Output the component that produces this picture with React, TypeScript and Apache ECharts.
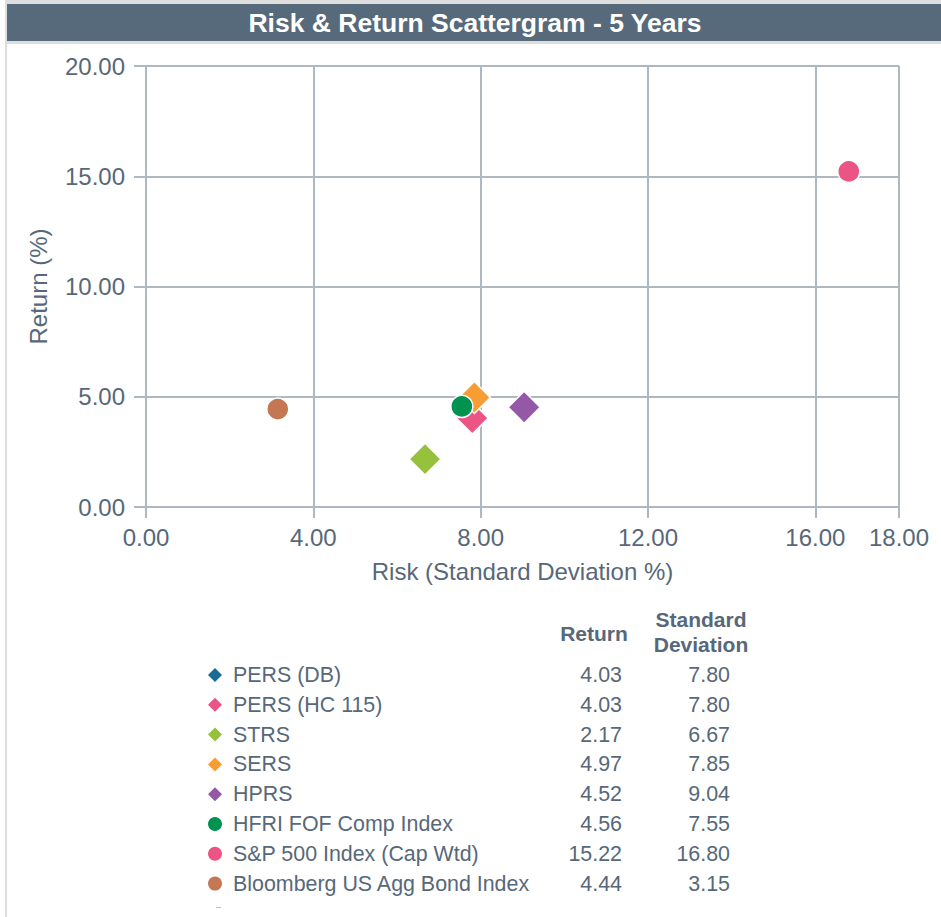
import React, { useEffect, useRef } from "react";
import * as echarts from "echarts";

const titleText = "Risk & Return Scattergram - 5 Years";
const names = [
  "PERS (DB)",
  "PERS (HC 115)",
  "STRS",
  "SERS",
  "HPRS",
  "HFRI FOF Comp Index",
  "S&P 500 Index (Cap Wtd)",
  "Bloomberg US Agg Bond Index",
];
const returns = [4.03, 4.03, 2.17, 4.97, 4.52, 4.56, 15.22, 4.44];
const stdDevs = [7.8, 7.8, 6.67, 7.85, 9.04, 7.55, 16.8, 3.15];
const colors = ["#176b95", "#ec5486", "#95c13d", "#f89c34", "#9558a6", "#00924f", "#ec5486", "#c57753"];
const shapes = ["diamond", "diamond", "diamond", "diamond", "diamond", "circle", "circle", "circle"];
const xAxisName = "Risk (Standard Deviation %)";
const yAxisName = "Return (%)";
const returnHeader = "Return";
const stdHeader = ["Standard", "Deviation"];

const FONT = "'Liberation Sans', Arial, sans-serif";
const TEXT = "#566879";
const GRID = "#aeb8c3";

export default function App() {
  const ref = useRef<HTMLDivElement>(null);
  useEffect(() => {
    document.body.style.margin = "0";
    const chart = echarts.init(ref.current!, null, { renderer: "svg" });

    const series = names.map((n, i) => ({
      name: n,
      type: "scatter",
      data: [[stdDevs[i], returns[i]]],
      symbol: shapes[i],
      symbolSize: shapes[i] === "diamond" ? 32 : 22,
      itemStyle: { color: colors[i], borderColor: "#ffffff", borderWidth: 1.5, opacity: 1 },
      z: 2 + i,
    }));

    const rowY0 = 675;
    const rowStep = 29.8;
    const legendEls: any[] = [];
    names.forEach((n, i) => {
      const cy = rowY0 + i * rowStep;
      const cx = 215;
      if (shapes[i] === "diamond") {
        legendEls.push({
          type: "polygon",
          shape: { points: [[cx, cy - 7], [cx + 7, cy], [cx, cy + 7], [cx - 7, cy]] },
          style: { fill: colors[i] },
        });
      } else {
        legendEls.push({ type: "circle", shape: { cx, cy, r: 7 }, style: { fill: colors[i] } });
      }
      legendEls.push({
        type: "text",
        x: 233,
        y: cy,
        style: { text: n, fontSize: 21.4, fontFamily: FONT, fill: TEXT, align: "left", verticalAlign: "middle" },
      });
      legendEls.push({
        type: "text",
        x: 622,
        y: cy,
        style: { text: returns[i].toFixed(2), fontSize: 21.4, fontFamily: FONT, fill: TEXT, align: "right", verticalAlign: "middle" },
      });
      legendEls.push({
        type: "text",
        x: 730,
        y: cy,
        style: { text: stdDevs[i].toFixed(2), fontSize: 21.4, fontFamily: FONT, fill: TEXT, align: "right", verticalAlign: "middle" },
      });
    });

    chart.setOption({
      animation: false,
      backgroundColor: "#ffffff",
      grid: { left: 146, right: 42, top: 66, bottom: 410, containLabel: false },
      xAxis: {
        type: "value",
        min: 0,
        max: 18,
        interval: 4,
        name: xAxisName,
        nameLocation: "middle",
        nameGap: 52,
        nameTextStyle: { fontSize: 24, fontFamily: FONT, color: TEXT },
        axisLine: { show: true, lineStyle: { color: GRID, width: 2 } },
        axisTick: { show: true, length: 11, lineStyle: { color: GRID, width: 2 } },
        axisLabel: { fontSize: 24, fontFamily: FONT, color: TEXT, margin: 18, formatter: (v: number) => v.toFixed(2), showMaxLabel: true },
        splitLine: { show: true, lineStyle: { color: GRID, width: 2 } },
      },
      yAxis: {
        type: "value",
        min: 0,
        max: 20,
        interval: 5,
        name: yAxisName,
        nameLocation: "middle",
        nameGap: 96,
        nameTextStyle: { fontSize: 24, fontFamily: FONT, color: TEXT },
        axisLine: { show: true, lineStyle: { color: GRID, width: 2 } },
        axisTick: { show: true, length: 12, lineStyle: { color: GRID, width: 2 } },
        axisLabel: { fontSize: 24, fontFamily: FONT, color: TEXT, margin: 21, formatter: (v: number) => v.toFixed(2) },
        splitLine: { show: true, lineStyle: { color: GRID, width: 2 } },
      },
      series,
      graphic: [
        { type: "rect", z: -10, shape: { x: 5, y: 0, width: 936, height: 917 }, style: { fill: "#dedede" } },
        { type: "rect", z: -9, shape: { x: 7, y: 44, width: 934, height: 873 }, style: { fill: "#ffffff" } },
        { type: "rect", z: -8, shape: { x: 7, y: 4, width: 934, height: 37 }, style: { fill: "#566a7b" } },
        {
          type: "text",
          x: 475,
          y: 23,
          z: 10,
          style: { text: titleText, fontSize: 26.5, fontWeight: "bold", fontFamily: FONT, fill: "#ffffff", align: "center", verticalAlign: "middle" },
        },
        {
          type: "text",
          x: 594,
          y: 633,
          style: { text: returnHeader, fontSize: 21, fontWeight: "bold", fontFamily: FONT, fill: TEXT, align: "center", verticalAlign: "middle" },
        },
        {
          type: "text",
          x: 701,
          y: 619,
          style: { text: stdHeader[0], fontSize: 21, fontWeight: "bold", fontFamily: FONT, fill: TEXT, align: "center", verticalAlign: "middle" },
        },
        {
          type: "text",
          x: 701,
          y: 644,
          style: { text: stdHeader[1], fontSize: 21, fontWeight: "bold", fontFamily: FONT, fill: TEXT, align: "center", verticalAlign: "middle" },
        },
        ...legendEls,
        { type: "rect", shape: { x: 216, y: 907, width: 5, height: 1 }, style: { fill: "#f2a3bf" } },
      ],
    });
    return () => chart.dispose();
  }, []);
  return <div ref={ref} style={{ width: 941, height: 917 }} />;
}
